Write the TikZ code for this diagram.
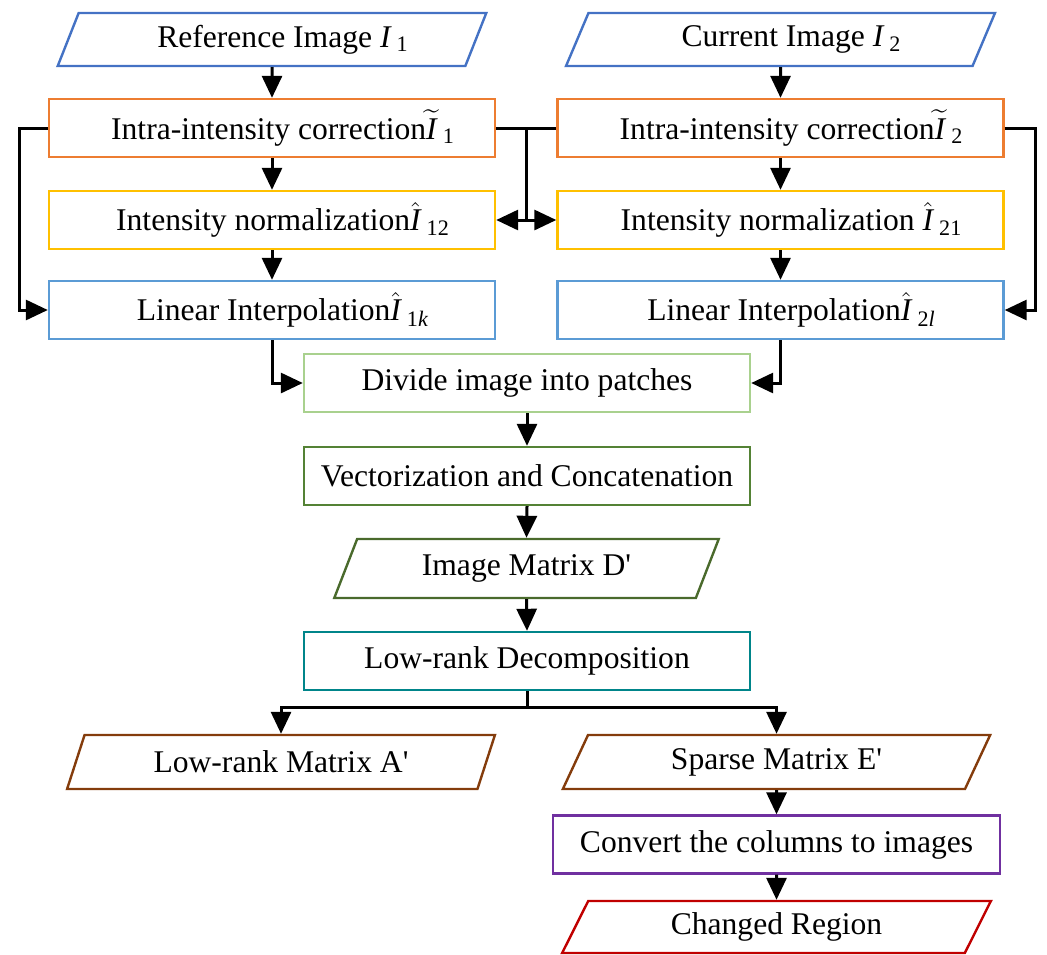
\documentclass[tikz,border=0pt]{standalone}
\usepackage{amsmath}
\usepackage{fontspec}
\setmainfont{Liberation Serif}[Ligatures=TeXOff]
\usetikzlibrary{shapes.geometric,arrows.meta,calc}
\definecolor{cblue}{HTML}{4472C4}
\definecolor{corange}{HTML}{ED7D31}
\definecolor{cgold}{HTML}{FFC000}
\definecolor{clblue}{HTML}{5B9BD5}
\definecolor{clgreen}{HTML}{A9D18E}
\definecolor{cgreen}{HTML}{548235}
\definecolor{cdgreen}{HTML}{4A6A2C}
\definecolor{cteal}{HTML}{00858A}
\definecolor{cbrown}{HTML}{843C0C}
\definecolor{cpurple}{HTML}{7030A0}
\definecolor{cred}{HTML}{C00000}
\newcommand{\imgsub}[1]{_{\mkern5mu\text{#1}}}
\begin{document}
\begin{tikzpicture}[x=0.5pt,y=-0.5pt,
  box node/.style={rectangle,draw,line width=1.2pt,minimum width=223pt,minimum height=29pt,inner sep=0pt,font=\fontsize{15.8}{18}\selectfont},
  io node/.style={trapezium,trapezium left angle=63,trapezium right angle=117,trapezium stretches=true,draw,line width=1.2pt,minimum width=214.5pt,minimum height=26.5pt,inner sep=0pt,font=\fontsize{15.8}{18}\selectfont},
  eq node/.style={execute at begin node={\hspace*{11pt}}},
  conn/.style={line width=1.5pt},
  arrow/.style={conn,-{Triangle[length=11pt,width=10pt]}}]
  \useasboundingbox (0,0) rectangle (1047,954);
  \node[io node,eq node,draw=cblue] (refimg) at (272,39.5) {Reference Image $\textit{I}\imgsub{1}$};
  \node[io node,eq node,draw=cblue] (curimg) at (780.5,39.5) {Current Image $\textit{I}\imgsub{2}$};
  \node[box node,eq node,draw=corange] (intraL) at (272,128) {Intra-intensity correction$\widetilde{\textit{I}}\imgsub{1}$};
  \node[box node,eq node,draw=corange] (intraR) at (780.5,128) {Intra-intensity correction$\widetilde{\textit{I}}\imgsub{2}$};
  \node[box node,eq node,draw=cgold] (normL) at (272,220) {Intensity normalization$\hat{\textit{I}}\imgsub{12}$};
  \node[box node,eq node,draw=cgold] (normR) at (780.5,220) {Intensity normalization $\hat{\textit{I}}\imgsub{21}$};
  \node[box node,eq node,draw=clblue] (linL) at (272,310) {Linear Interpolation$\hat{\textit{I}}\imgsub{1\textit{k}}$};
  \node[box node,eq node,draw=clblue] (linR) at (780.5,310) {Linear Interpolation$\hat{\textit{I}}\imgsub{2\textit{l}}$};

  \node[box node,draw=clgreen] (divide) at (527,383) {Divide image into patches};
  \node[box node,draw=cgreen] (vect) at (527,476) {Vectorization and Concatenation};
  \node[io node,draw=cdgreen,minimum width=192.5pt,minimum height=29.5pt] (dmat) at (526.5,568.5) {Image Matrix D'};
  \node[box node,draw=cteal] (lowdec) at (527,661) {Low-rank Decomposition};

  \node[io node,draw=cbrown,minimum width=214pt,minimum height=27pt] (amat) at (281,762) {Low-rank Matrix A'};
  \node[io node,draw=cbrown,minimum width=214pt,minimum height=27pt] (emat) at (776.5,762) {Sparse Matrix E'};
  \node[box node,draw=cpurple,minimum width=223.5pt] (convert) at (776.5,844.5) {Convert the columns to images};
  \node[io node,draw=cred,minimum height=26pt] (changed) at (776.5,927) {Changed Region};

  \foreach \a/\b in {refimg/intraL,intraL/normL,normL/linL,curimg/intraR,intraR/normR,normR/linR,divide/vect,vect/dmat,dmat/lowdec,emat/convert,convert/changed}
  \draw[arrow] (\a.south) -- (\b.north);

  \draw[arrow] (intraL.west) -- ++(-28,0) |- (linL.west);
  \draw[arrow] (intraR.east) -- ++(31,0) |- (linR.east);
  \draw[conn] (intraL.east) -- (intraR.west);
  \coordinate (split) at ($(intraL.east)!0.5!(intraR.west)$);
  \draw[conn] (split) -- (split |- normL.east);
  \draw[arrow] (split |- normL.east) -- (normL.east);
  \draw[arrow] (split |- normR.west) -- (normR.west);

  \draw[arrow] (linL.south) |- (divide.west);
  \draw[arrow] (linR.south) |- (divide.east);
  \coordinate (fork) at ($(lowdec.south)+(0,16)$);
  \draw[conn] (lowdec.south) -- (fork);
  \draw[arrow] (fork) -| (amat.north);
  \draw[arrow] (fork) -| (emat.north);
\end{tikzpicture}
\end{document}
